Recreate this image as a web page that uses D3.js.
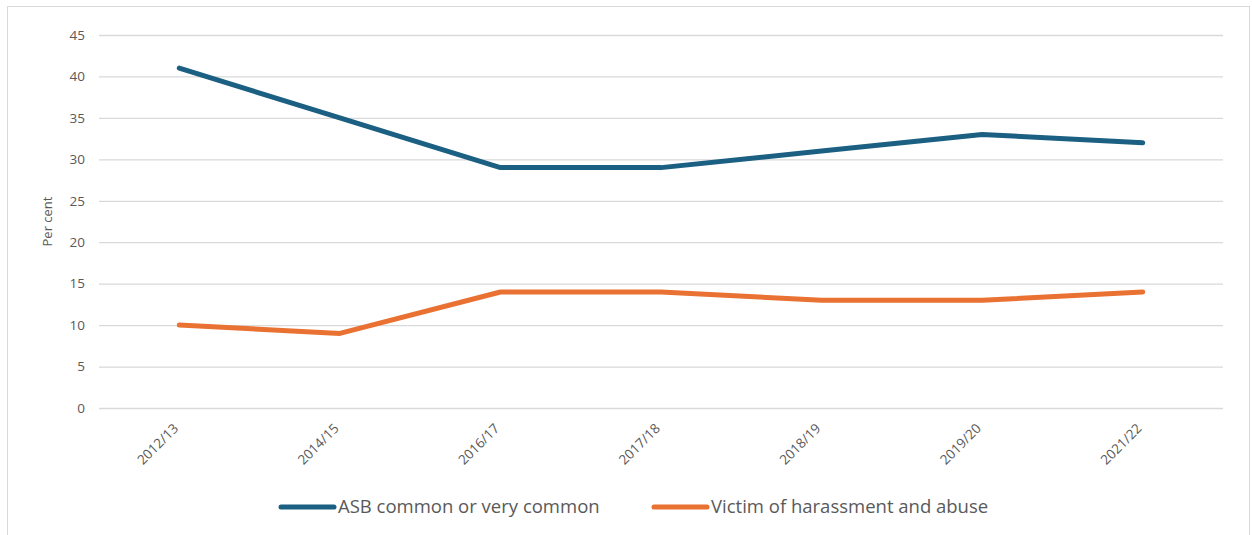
<!DOCTYPE html>
<html>
<head>
<meta charset="utf-8">
<script src="https://cdn.jsdelivr.net/npm/d3@7"></script>
<style>
  html, body { margin: 0; padding: 0; background: #fff; }
  svg { display: block; }
  text { font-family: "Open Sans", "Noto Sans", sans-serif; }
</style>
</head>
<body>
<svg id="chart" width="1252" height="535"></svg>
<script>
// Survey years
const years = ["2012/13", "2014/15", "2016/17", "2017/18", "2018/19", "2019/20", "2021/22"];
// Per cent saying anti-social behaviour is common or very common
const asbCommon = [41, 35, 29, 29, 31, 33, 32];
// Per cent who were a victim of harassment and abuse
const victimHarassment = [10, 9, 14, 14, 13, 13, 14];
const yTicks = [0, 5, 10, 15, 20, 25, 30, 35, 40, 45];

const series = [
  { name: "ASB common or very common", values: asbCommon, color: "#1b5f82" },
  { name: "Victim of harassment and abuse", values: victimHarassment, color: "#e97132" }
];

const svg = d3.select("#chart");
const W = 1252, H = 535;
const plot = { left: 99, right: 1223, top: 35, bottom: 408 };

// chart frame
svg.append("rect")
  .attr("x", 7.5).attr("y", 6.5)
  .attr("width", W - 10).attr("height", H)
  .attr("fill", "#fff").attr("stroke", "#d9d9d9").attr("stroke-width", 1);

const x = d3.scalePoint().domain(years).range([plot.left, plot.right]).padding(0.5);
const y = d3.scaleLinear().domain([0, 45]).range([plot.bottom, plot.top]);

// horizontal gridlines + y labels
const yAxis = d3.axisLeft(y).tickValues(yTicks).tickSize(-(plot.right - plot.left)).tickPadding(14);
const gy = svg.append("g").attr("transform", `translate(${plot.left},0)`).call(yAxis);
gy.select(".domain").remove();
gy.selectAll(".tick line").attr("stroke", "#d9d9d9").attr("stroke-width", 1.3);
gy.selectAll(".tick text").attr("fill", "#595959").attr("font-size", 13.5)
  .style("font-family", "'Open Sans', sans-serif");

// x category labels, rotated
const xAxis = d3.axisBottom(x).tickSize(0).tickPadding(0);
const gx = svg.append("g").attr("transform", `translate(0,${plot.bottom})`).call(xAxis);
gx.select(".domain").remove();
gx.selectAll(".tick text")
  .attr("fill", "#595959").attr("font-size", 13.5)
  .attr("text-anchor", "end")
  .attr("dy", "0.35em")
  .attr("transform", "translate(-4,18) rotate(-45)")
  .style("font-family", "'Open Sans', sans-serif");

// y axis title
svg.append("text")
  .attr("transform", `translate(52,${(plot.top + plot.bottom) / 2}) rotate(-90)`)
  .attr("text-anchor", "middle")
  .attr("fill", "#595959").attr("font-size", 13)
  .text("Per cent");

// series lines
const line = d3.line().x((d, i) => x(years[i])).y(d => y(d));
series.forEach(s => {
  svg.append("path")
    .attr("d", line(s.values))
    .attr("fill", "none")
    .attr("stroke", s.color)
    .attr("stroke-width", 5)
    .attr("stroke-linecap", "round")
    .attr("stroke-linejoin", "round");
});

// legend
const legendItems = [
  { x: 281, tx: 338 },
  { x: 654, tx: 711 }
];
series.forEach((s, i) => {
  const li = legendItems[i];
  svg.append("line")
    .attr("x1", li.x).attr("x2", li.x + 53)
    .attr("y1", 507).attr("y2", 507)
    .attr("stroke", s.color).attr("stroke-width", 5)
    .attr("stroke-linecap", "round");
  svg.append("text")
    .attr("x", li.tx).attr("y", 507)
    .attr("dy", "0.35em")
    .attr("fill", "#595959").attr("font-size", 18.5)
    .text(s.name);
});
</script>
</body>
</html>
